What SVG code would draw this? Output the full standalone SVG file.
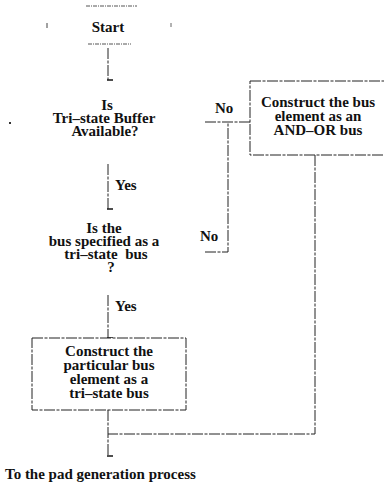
<svg xmlns="http://www.w3.org/2000/svg" width="384" height="482" viewBox="0 0 384 482">
  <style>
    text { font-family: "Liberation Serif", "Times New Roman", serif; font-weight: bold; font-size: 15px; fill: #111; white-space: pre; }
    .c { text-anchor: middle; }
    .ln { fill: none; stroke: #222; stroke-width: 1; stroke-dasharray: 11 1.5 3 1.5; }
    .faint { fill: none; stroke: #555; stroke-width: 1; stroke-dasharray: 4 1 1 1; }
    .box { fill: #fff; stroke: #222; stroke-width: 1; stroke-dasharray: 11 1.5 3 1.5; }
  </style>
  <defs>
    <marker id="arr" markerWidth="4" markerHeight="6" refX="2" refY="5" orient="auto" markerUnits="userSpaceOnUse">
      <path d="M2,0 L2,6" stroke="#222" stroke-width="1.6"/>
    </marker>
  </defs>
  <rect width="384" height="482" fill="#fff"/>

  <!-- connectors -->
  <g id="connectors">
    <line class="ln" x1="108" y1="48" x2="108" y2="80" marker-end="url(#arr)"/>
    <line class="ln" x1="108" y1="164" x2="108" y2="209" marker-end="url(#arr)"/>
    <line class="ln" x1="108" y1="295" x2="108" y2="338" marker-end="url(#arr)"/>
    <polyline class="ln" points="205,122 250,122"/>
    <polyline class="ln" points="205,252 228,252 228,122"/>
    <polyline class="ln" points="315,155 315,434 108,434"/>
    <line class="ln" x1="108" y1="410" x2="108" y2="456" marker-end="url(#arr)"/>
  </g>

  <!-- start terminal (only faint traces remain) -->
  <g id="start">
    <line class="faint" x1="86" y1="6" x2="137" y2="6"/>
    <line class="faint" x1="88" y1="44" x2="131" y2="44"/>
    <line x1="47" y1="23" x2="47" y2="28" stroke="#444" stroke-width="1"/>
    <line x1="171" y1="23" x2="171" y2="27" stroke="#666" stroke-width="1"/>
    <text class="c" x="108" y="32">Start</text>
  </g>

  <!-- decision: tri-state buffer available -->
  <g id="decision1">
    <rect x="9" y="122" width="2" height="2" fill="#333"/>
    <text class="c" x="107" y="110">Is</text>
    <text class="c" x="104" y="123">Tri–state Buffer</text>
    <text class="c" x="105" y="136">Available?</text>
  </g>

  <!-- decision: bus specified as tri-state -->
  <g id="decision2">
    <text class="c" x="104" y="233">Is the</text>
    <text class="c" x="104" y="246">bus specified as a</text>
    <text class="c" x="106" y="259">tri–state  bus</text>
    <text class="c" x="111" y="272">?</text>
  </g>

  <!-- AND-OR bus process -->
  <g id="andor">
    <rect class="box" x="250" y="81" width="140" height="74"/>
    <text class="c" x="318" y="107">Construct the bus</text>
    <text class="c" x="318" y="121">element as an</text>
    <text class="c" x="318" y="135">AND–OR bus</text>
  </g>

  <!-- tri-state bus process -->
  <g id="tristate">
    <rect class="box" x="32" y="338" width="154" height="72"/>
    <text class="c" x="109" y="356">Construct the</text>
    <text class="c" x="109" y="370">particular bus</text>
    <text class="c" x="109" y="384">element as a</text>
    <text class="c" x="109" y="398">tri–state bus</text>
  </g>

  <!-- edge labels -->
  <g id="labels">
    <text x="115" y="190">Yes</text>
    <text x="115" y="311">Yes</text>
    <text x="215" y="113">No</text>
    <text x="200" y="241">No</text>
  </g>

  <g id="end">
    <text x="5" y="479">To the pad generation process</text>
  </g>
</svg>
